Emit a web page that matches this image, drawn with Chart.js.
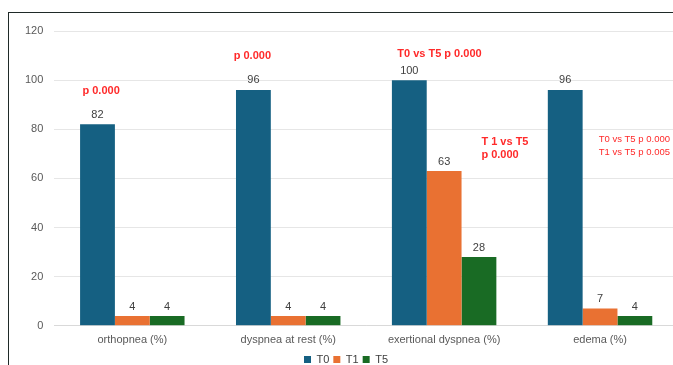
<!DOCTYPE html>
<html>
<head>
<meta charset="utf-8">
<script src="https://cdn.jsdelivr.net/npm/chart.js@4.4.1/dist/chart.umd.min.js"></script>
<style>
  html, body { margin: 0; padding: 0; background: #fff; overflow: hidden; }
  #wrap { position: relative; width: 673px; height: 365px; overflow: hidden; }
  #frame {
    position: absolute; left: 8px; top: 12px; width: 700px; height: 400px;
    border: 1.5px solid #1f2a28; box-sizing: border-box;
  }
  #box { position: absolute; left: 0; top: 0; width: 678px; height: 365px; }
</style>
</head>
<body>
<div id="wrap">
  <div id="frame"></div>
  <div id="box"><canvas id="grafico"></canvas></div>
</div>
<script>
const categorias = ["orthopnea (%)", "dyspnea at rest (%)", "exertional dyspnea (%)", "edema (%)"];
const serieT0 = [82, 96, 100, 96];
const serieT1 = [4, 4, 63, 7];
const serieT5 = [4, 4, 28, 4];
const ticksY = [0, 20, 40, 60, 80, 100, 120];

// textos de significância: [posição x (índice da categoria), valor y, linhas, pequeno?]
const anotacoes = [
    { x: -0.2, y: 95.5, linhas: ["p 0.000"], pequeno: false },
    { x: 0.77, y: 110, linhas: ["p 0.000"], pequeno: false },
    { x: 1.97, y: 110.6, linhas: ["T0 vs T5 p 0.000"], pequeno: false },
    { x: 2.39, y: 72.2, linhas: ["T 1 vs T5", "p 0.000"], pequeno: false, esquerda: true },
    { x: 3.22, y: 73.4, linhas: ["T0 vs T5 p 0.000", "T1 vs T5 p 0.005"], pequeno: true }
];

const fonte = "'Liberation Sans', Arial, sans-serif";

const rotulos = {
    id: "rotulos",
    afterDatasetsDraw(chart) {
        const c = chart.ctx;
        c.save();
        c.font = "11px " + fonte;
        c.fillStyle = "#404040";
        c.textAlign = "center";
        c.textBaseline = "bottom";
        chart.data.datasets.forEach(function (ds, i) {
            chart.getDatasetMeta(i).data.forEach(function (barra, j) {
                c.fillText(String(ds.data[j]), barra.x, barra.y - 4);
            });
        });

        const sx = chart.scales.x;
        const sy = chart.scales.y;
        c.fillStyle = "#ff2a2a";
        c.textBaseline = "middle";
        anotacoes.forEach(function (a) {
            const px = sx.getPixelForValue(a.x);
            const py = sy.getPixelForValue(a.y);
            c.font = (a.pequeno ? "9.5px " : "600 11px ") + fonte;
            const alt = 13;
            const ini = py - (a.linhas.length - 1) * alt / 2;
            let larg = 0;
            a.linhas.forEach(function (l) { larg = Math.max(larg, c.measureText(l).width); });
            a.linhas.forEach(function (l, k) {
                if (a.esquerda) {
                    c.textAlign = "left";
                    c.fillText(l, px - larg / 2, ini + k * alt);
                } else {
                    c.textAlign = "center";
                    c.fillText(l, px, ini + k * alt);
                }
            });
        });
        c.restore();
    }
};

new Chart(document.getElementById("grafico"), {
    type: "bar",
    data: {
        labels: categorias,
        datasets: [
            { label: "T0", data: serieT0, backgroundColor: "#156082" },
            { label: "T1", data: serieT1, backgroundColor: "#E97132" },
            { label: "T5", data: serieT5, backgroundColor: "#196B24" }
        ]
    },
    options: {
        responsive: true,
        maintainAspectRatio: false,
        animation: false,
        layout: { padding: { left: 14, right: 0, top: 31, bottom: -10 } },
        datasets: {
            bar: { categoryPercentage: 0.67, barPercentage: 1 }
        },
        plugins: {
            tooltip: { enabled: false },
            legend: {
                position: "bottom",
                labels: {
                    color: "#404040",
                    boxWidth: 7,
                    boxHeight: 7,
                    padding: 4,
                    font: { family: fonte, size: 11 }
                }
            }
        },
        scales: {
            x: {
                grid: { display: false },
                border: { color: "#d9d9d9" },
                ticks: { color: "#595959", font: { family: fonte, size: 11 }, padding: 0 },
                afterFit(escala) { escala.height += 3; }
            },
            y: {
                min: 0,
                max: 120,
                afterBuildTicks(axis) {
                    axis.ticks = ticksY.map(function (v) { return { value: v }; });
                },
                grid: { color: "#e6e6e6", drawTicks: false },
                border: { display: false },
                ticks: { color: "#595959", font: { family: fonte, size: 11 }, padding: 11 }
            }
        }
    },
    plugins: [rotulos]
});
</script>
</body>
</html>
